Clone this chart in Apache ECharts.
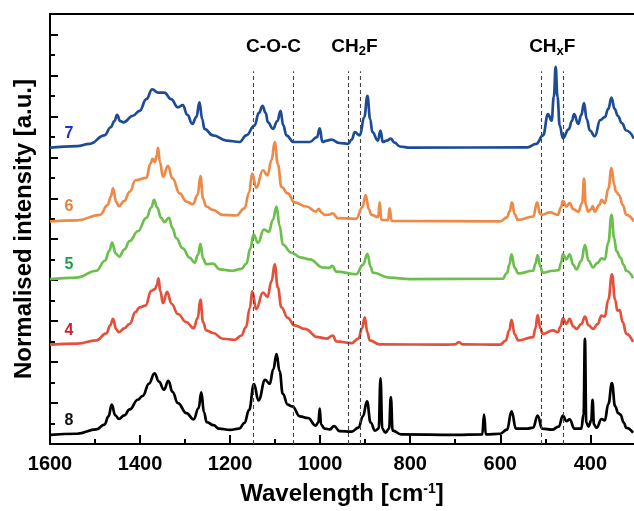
<!DOCTYPE html>
<html>
<head>
<meta charset="utf-8">
<script src="https://cdn.jsdelivr.net/npm/echarts@6/dist/echarts.min.js"></script>
<style>
html, body { margin: 0; padding: 0; background: #fff; }
#chart { width: 634px; height: 511px; }
</style>
</head>
<body>
<div id="chart"></div>
<script>
// spectra: [wavenumber, intensity above own baseline]
var spec8 = [[1600,0],[1540,0.05],[1497,0.26],[1479,0.5],[1470,0.9],[1463,1.47],[1455,0.95],[1447,0.77],[1435,0.95],[1423,1.24],[1405,1.71],[1394,1.9],[1380,2.5],[1368,3.0],[1358,2.6],[1347,2.2],[1337,2.63],[1328,2.1],[1316,1.55],[1297,1.06],[1281,0.75],[1270,1.3],[1264,2.07],[1258,1.1],[1252,0.62],[1237,0.47],[1225,0.3],[1200,0.24],[1180,0.3],[1168,0.58],[1158,1.2],[1147,2.47],[1137,1.68],[1122,2.68],[1112,2.49],[1104,3.2],[1097,3.94],[1090,3.1],[1083,2.0],[1072,1.47],[1062,1.39],[1045,0.9],[1027,0.82],[1010,0.45],[1004,0.6],[1001,1.28],[998,0.5],[990,0.3],[979,0.26],[969,0.42],[957,0.18],[930,0.15],[915,0.35],[905,0.9],[896,1.63],[888,0.6],[878,0.2],[870,0.3],[866,2.76],[862,0.3],[855,0.1],[847,0.3],[843,1.84],[839,0.2],[820,0.02],[700,0],[640,0.02],[636,0.99],[632,0.02],[600,0.05],[585,0.25],[575,1.15],[565,0.3],[540,0.3],[527,0.35],[517,0.94],[507,0.3],[485,0.25],[470,0.4],[461,0.94],[453,0.66],[446,0.75],[435,0.3],[420,0.3],[415,1.0],[412,4.69],[409,0.6],[404,0.4],[398,0.7],[395,1.71],[392,0.5],[386,0.34],[375,0.77],[368,0.7],[360,1.5],[352,2.52],[345,1.4],[338,1.06],[333,0.99],[326,0.6],[320,0.34],[305,0.1]]
var spec4 = [[1600,0],[1540,0.05],[1497,0.21],[1475,0.55],[1466,0.95],[1460,1.26],[1453,0.75],[1447,0.61],[1435,0.8],[1423,1.02],[1410,1.6],[1401,1.82],[1388,1.91],[1375,2.63],[1367,2.71],[1363,2.9],[1359,3.24],[1355,2.6],[1349,2.03],[1340,2.58],[1330,2.0],[1316,1.5],[1297,1.1],[1281,0.81],[1272,1.3],[1266,2.2],[1260,1.1],[1253,0.7],[1238,0.57],[1216,0.29],[1190,0.24],[1175,0.45],[1165,0.85],[1156,1.8],[1151,2.6],[1142,1.74],[1127,2.55],[1117,2.34],[1108,3.1],[1101,3.92],[1094,2.8],[1086,1.82],[1072,1.31],[1057,0.94],[1034,0.77],[1005,0.37],[985,0.3],[972,0.45],[964,0.16],[930,0.08],[915,0.3],[907,0.8],[901,1.34],[895,0.6],[890,0.21],[868,0.02],[720,0],[700,0.02],[692,0.13],[684,0.02],[600,0],[588,0.2],[580,0.7],[575,1.21],[568,0.5],[560,0.21],[527,0.37],[522,0.8],[517,1.45],[511,0.8],[506,0.53],[483,0.7],[472,0.61],[466,0.9],[461,1.29],[453,1.02],[446,1.26],[438,0.9],[431,0.77],[420,1.0],[412,1.37],[404,0.95],[394,0.77],[384,1.0],[375,1.42],[368,1.37],[360,2.2],[352,3.43],[345,2.2],[340,1.66],[335,1.69],[328,1.1],[320,0.53],[305,0.13]]
var spec5 = [[1600,0],[1540,0.08],[1497,0.41],[1478,0.9],[1468,1.4],[1462,1.78],[1454,1.25],[1446,1.1],[1435,1.45],[1423,1.86],[1405,2.34],[1386,2.99],[1375,3.5],[1369,3.87],[1362,3.5],[1353,2.99],[1346,2.79],[1336,2.99],[1328,2.5],[1320,2.02],[1305,1.5],[1290,1.05],[1279,0.81],[1271,1.2],[1266,1.73],[1260,1.0],[1253,0.73],[1238,0.76],[1223,0.48],[1194,0.41],[1175,0.5],[1164,0.75],[1155,1.5],[1148,2.18],[1138,1.78],[1125,2.42],[1114,2.31],[1105,2.9],[1097,3.55],[1090,2.6],[1083,1.69],[1064,1.29],[1042,1.05],[1023,0.97],[994,0.57],[980,0.55],[973,0.65],[964,0.37],[920,0.24],[905,0.7],[895,1.24],[888,0.6],[883,0.32],[846,0.08],[800,0],[595,0.02],[585,0.3],[580,0.7],[575,1.21],[568,0.55],[560,0.28],[527,0.41],[522,0.75],[517,1.18],[511,0.6],[506,0.32],[483,0.41],[470,0.44],[465,0.8],[461,1.21],[453,0.97],[446,1.21],[438,0.7],[431,0.48],[420,0.9],[412,1.66],[404,0.9],[394,0.57],[384,0.8],[375,1.02],[368,0.97],[360,1.8],[353,3.14],[347,2.0],[342,1.37],[333,1.05],[326,0.7],[320,0.41],[305,0.05]]
var spec6 = [[1600,0],[1540,0.05],[1489,0.32],[1472,0.8],[1465,1.2],[1460,1.61],[1453,0.95],[1447,0.75],[1435,1.0],[1423,1.45],[1410,2.01],[1386,2.13],[1377,2.82],[1372,3.06],[1367,2.9],[1363,3.2],[1360,3.59],[1356,2.9],[1349,2.18],[1338,2.71],[1328,2.1],[1312,1.37],[1297,0.97],[1283,0.84],[1272,1.3],[1266,2.21],[1260,1.1],[1253,0.73],[1238,0.56],[1216,0.32],[1186,0.29],[1168,0.64],[1158,1.4],[1151,2.34],[1142,1.65],[1127,2.5],[1117,2.25],[1108,3.0],[1101,3.87],[1094,2.8],[1086,1.69],[1072,1.37],[1057,0.93],[1031,0.73],[1009,0.48],[1003,0.61],[997,0.43],[990,0.32],[980,0.33],[972,0.4],[961,0.16],[920,0.13],[906,0.7],[899,1.29],[892,0.6],[886,0.32],[871,0.21],[868,0.93],[864,0.08],[849,0.06],[846,0.64],[841,0.03],[600,0],[585,0.2],[579,0.5],[574,0.93],[568,0.35],[561,0.08],[527,0.24],[518,0.93],[512,0.4],[508,0.32],[490,0.44],[472,0.32],[465,0.7],[461,1.0],[453,0.73],[446,0.89],[438,0.6],[427,0.48],[418,0.9],[414,2.09],[410,0.8],[405,0.48],[398,0.6],[395,0.75],[390,0.48],[380,0.8],[375,1.05],[368,0.89],[360,1.6],[353,2.61],[347,1.8],[343,1.45],[336,1.29],[328,0.8],[320,0.32],[303,0]]
var spec7 = [[1600,0],[1540,0.08],[1512,0.19],[1479,0.6],[1465,1.0],[1457,1.3],[1451,1.6],[1444,1.3],[1437,1.24],[1416,1.56],[1401,1.8],[1386,2.37],[1373,2.85],[1360,2.69],[1346,2.69],[1331,2.37],[1316,1.97],[1305,2.08],[1295,1.6],[1284,1.16],[1275,1.5],[1268,2.21],[1262,1.4],[1257,0.92],[1238,0.6],[1208,0.35],[1179,0.28],[1164,0.6],[1146,1.08],[1136,1.7],[1128,2.05],[1121,1.7],[1116,1.24],[1105,0.92],[1095,1.3],[1088,1.8],[1082,1.1],[1075,0.6],[1059,0.28],[1023,0.28],[1007,0.52],[1001,0.95],[995,0.28],[985,0.35],[975,0.39],[957,0.23],[938,0.19],[930,0.4],[923,0.76],[912,0.6],[902,1.5],[895,2.53],[889,1.4],[884,0.76],[872,0.35],[866,0.84],[861,0.28],[852,0.35],[843,0.44],[835,0.25],[823,0.06],[800,0],[540,0.02],[520,0.19],[505,0.6],[494,1.64],[486,1.32],[481,2.5],[477,3.95],[473,2.5],[468,1.08],[461,0.47],[448,0.9],[441,1.3],[436,1.64],[427,1.16],[420,1.6],[414,2.18],[408,1.4],[401,0.84],[390,0.56],[378,1.35],[368,1.49],[360,1.9],[353,2.45],[346,1.9],[339,1.56],[330,1.2],[320,0.84],[303,0.44]]

var names = ['8', '4', '5', '6', '7']
var spectra = [spec8, spec4, spec5, spec6, spec7]
var offsets = [0.45, 4.85, 8.05, 10.87, 14.47]
var lineColors = ['#000000', '#e4503a', '#6cbf4c', '#ee8a48', '#1d4c94']
var labelColors = ['#111111', '#cc2230', '#1e9e4a', '#ea7f3c', '#2233c0']

var xTicks = [1600, 1400, 1200, 1000, 800, 600, 400]
var xMinorTicks = [1500, 1300, 1100, 900, 700, 500]
var bandLines = [1148, 1059, 937, 911, 509, 460]
var bandLabels = ['C-O-C', 'CH{sub|2}F', 'CH{sub|x}F']

var FONT = 'Liberation Sans, Arial, sans-serif'
var chart = echarts.init(document.getElementById('chart'))

var series = spectra.map(function (spec, i) {
  return {
    name: names[i],
    type: 'line',
    showSymbol: false,
    smooth: 0.45,
    smoothMonotone: 'x',
    z: 3 + i,
    lineStyle: { color: lineColors[i], width: 2.7 },
    data: spec.map(function (p) { return [p[0], p[1] + offsets[i]] }),
    markPoint: {
      symbol: 'circle',
      symbolSize: 0,
      silent: true,
      label: { show: true, position: 'inside', color: labelColors[i], fontSize: 16, fontWeight: 'bold', fontFamily: FONT, formatter: names[i] },
      data: [{ coord: [1558, offsets[i] + 0.7] }]
    }
  }
})

// dashed band markers
series.push({
  type: 'line',
  data: [],
  z: 1,
  markLine: {
    silent: true,
    symbol: 'none',
    label: { show: false },
    lineStyle: { color: '#444', width: 1.1, type: [4, 3] },
    data: bandLines.map(function (w) { return [{ coord: [w, 0] }, { coord: [w, 18.2] }] })
  }
})

var xBase = { type: 'value', inverse: true, min: 303, max: 1600, splitLine: { show: false } }

chart.setOption({
  animation: false,
  backgroundColor: '#fff',
  grid: { left: 50, right: 0, top: 14, bottom: 63 },
  xAxis: [
    Object.assign({}, xBase, {
      position: 'bottom',
      axisLine: { lineStyle: { color: '#000', width: 2 } },
      axisTick: { inside: true, length: 9, customValues: xTicks, lineStyle: { color: '#000', width: 2 } },
      axisLabel: {
        customValues: xTicks, color: '#000', fontSize: 20, fontWeight: 'bold', fontFamily: FONT, margin: 10,
        formatter: function (v) { return String(v) }
      },
      name: 'Wavelength [cm{sup|-1}]',
      nameLocation: 'middle',
      nameGap: 38,
      nameTextStyle: {
        color: '#000', fontSize: 24, fontWeight: 'bold', fontFamily: FONT,
        rich: { sup: { fontSize: 14, fontWeight: 'bold', fontFamily: FONT, color: '#000', verticalAlign: 'top', padding: [0, 0, 10, 0] } }
      }
    }),
    Object.assign({}, xBase, {
      position: 'bottom',
      axisLine: { show: false },
      axisTick: { inside: true, length: 5, customValues: xMinorTicks, lineStyle: { color: '#000', width: 2 } },
      axisLabel: { show: false }
    }),
    Object.assign({}, xBase, {
      position: 'top',
      axisLine: { lineStyle: { color: '#000', width: 2 } },
      axisTick: { show: false },
      axisLabel: { show: false }
    })
  ],
  yAxis: {
    type: 'value',
    min: 0,
    max: 21,
    interval: 2,
    splitLine: { show: false },
    axisLine: { lineStyle: { color: '#000', width: 2 } },
    axisTick: { inside: true, length: 8, lineStyle: { color: '#000', width: 2 } },
    minorTick: { show: true, splitNumber: 2, length: 5, lineStyle: { color: '#000', width: 2 } },
    axisLabel: { show: false },
    name: 'Normalised intensity [a.u.]',
    nameLocation: 'middle',
    nameGap: 14,
    nameTextStyle: { color: '#000', fontSize: 24, fontWeight: 'bold', fontFamily: FONT }
  },
  series: series
})

// band titles centred over each pair of dashed lines
var graphics = []
for (var k = 0; k < bandLabels.length; k++) {
  var mid = (bandLines[2 * k] + bandLines[2 * k + 1]) / 2
  var pt = chart.convertToPixel({ xAxisIndex: 0, yAxisIndex: 0 }, [mid, 19.4])
  graphics.push({
    type: 'text',
    x: pt[0],
    y: pt[1],
    style: {
      text: bandLabels[k],
      align: 'center',
      verticalAlign: 'middle',
      fill: '#000',
      fontSize: 19,
      fontWeight: 'bold',
      fontFamily: FONT,
      rich: { sub: { fontSize: 13, fontWeight: 'bold', fontFamily: FONT, fill: '#000', verticalAlign: 'bottom', padding: [10, 0, 0, 0] } }
    }
  })
}
chart.setOption({ graphic: graphics })
</script>
</body>
</html>
